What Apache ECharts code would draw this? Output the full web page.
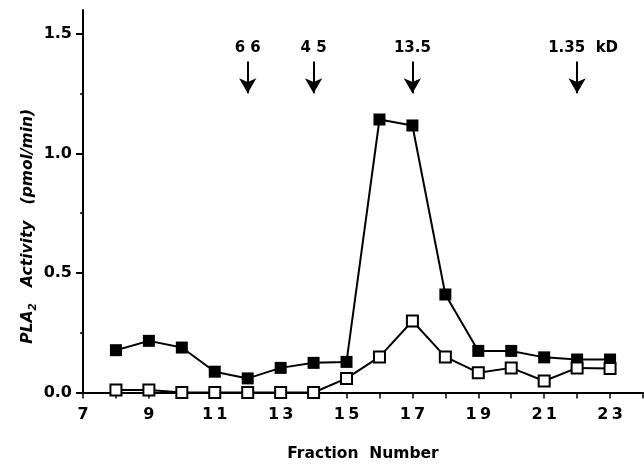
<!DOCTYPE html>
<html><head><meta charset="utf-8">
<script src="https://cdn.jsdelivr.net/npm/echarts@6/dist/echarts.min.js"></script>
<style>html,body{margin:0;padding:0;background:#fff}#c{width:644px;height:464px}</style>
</head><body><div id="c"></div>
<script>
var fractions = [8,9,10,11,12,13,14,15,16,17,18,19,20,21,22,23];
var filledValues = [0.177,0.216,0.188,0.087,0.059,0.103,0.124,0.128,1.142,1.117,0.41,0.174,0.174,0.147,0.138,0.138];
var openValues = [0.01,0.01,0.0,0.0,0.0,0.0,0.0,0.059,0.149,0.299,0.149,0.083,0.103,0.048,0.103,0.1];
var xLabelTicks = [7,9,11,13,15,17,19,21,23];
var xMinorTicks = [7,8,9,10,11,12,13,14,15,16,17,18,19,20,21,22,23,24];
var yLabelTicks = [0,0.5,1.0,1.5];
var yMinorTicks = [0.25,0.75,1.25];
var markerFractions = [12,14,17,22];
var markerLabels = ['6 6','4 5','13.5','1.35  kD'];
var arrowTop = 1.385, arrowBottom = 1.252;

var font = '"DejaVu Sans", "Liberation Sans", Arial, sans-serif';
var chart = echarts.init(document.getElementById('c'), null, {renderer:'canvas'});

function pairs(xs, ys){ return xs.map(function(x,i){return [x, ys[i]];}); }

var markData = markerFractions.map(function(f,i){
  return [{coord:[f,arrowTop], label:{formatter: markerLabels[i], offset: i===3 ? [6,0] : [0,0]}},{coord:[f,arrowBottom]}];
});

chart.setOption({
  animation:false,
  backgroundColor:'#fff',
  grid:{left:83, right:1, top:10, bottom:71.5, containLabel:false, outerBoundsMode:'none'},
  xAxis:{
    type:'value', min:7, max:24, interval:1,
    name:'Fraction  Number', nameLocation:'middle', nameGap:53, nameMoveOverlap:false,
    nameTextStyle:{fontFamily:font, fontWeight:'bold', fontSize:15.5, color:'#000'},
    axisLine:{show:true, onZero:false, lineStyle:{color:'#000', width:2}},
    axisTick:{show:true, inside:false, length:6, customValues:xMinorTicks, lineStyle:{color:'#000', width:1.5}},
    axisLabel:{show:true, customValues:xLabelTicks, margin:14, fontFamily:font, fontWeight:'bold', fontSize:16, color:'#000',
      formatter:function(v){return String(v).split('').join('\u2009');}},
    splitLine:{show:false}
  },
  yAxis:[{
    type:'value', min:0, max:1.6,
    name:'{m|PLA}{s|2}{m|   Activity   (pmol/min)}', nameLocation:'middle', nameGap:44, nameRotate:90, nameMoveOverlap:false,
    nameTextStyle:{fontFamily:font, fontWeight:'bold', fontStyle:'italic', fontSize:15.5, color:'#000', padding:[0,50,0,0],
      rich:{
        m:{fontFamily:font, fontWeight:'bold', fontStyle:'italic', fontSize:15.5, color:'#000', lineHeight:22, verticalAlign:'middle'},
        s:{fontFamily:font, fontWeight:'bold', fontStyle:'italic', fontSize:10.5, color:'#000', lineHeight:22, verticalAlign:'bottom', padding:[8,0,0,0]}
      }},
    axisLine:{show:true, lineStyle:{color:'#000', width:2}},
    axisTick:{show:true, length:7, customValues:yLabelTicks, lineStyle:{color:'#000', width:2}},
    axisLabel:{show:true, customValues:yLabelTicks, margin:11, fontFamily:font, fontWeight:'bold', fontSize:16, color:'#000',
      formatter:function(v){return v.toFixed(1);}},
    splitLine:{show:false}
  },{
    type:'value', min:0, max:1.6, position:'left',
    axisLine:{show:false},
    axisTick:{show:true, length:3, customValues:yMinorTicks, lineStyle:{color:'#000', width:1.5}},
    axisLabel:{show:false},
    splitLine:{show:false}
  }],
  series:[{
    type:'line', name:'filled', data:pairs(fractions, filledValues),
    symbol:'rect', symbolSize:12, showSymbol:true,
    lineStyle:{color:'#000', width:2}, itemStyle:{color:'#000', borderColor:'#000', borderWidth:0},
    z:3,
    markLine:{
      silent:true, symbol:['none','arrow'], symbolSize:[13,15],
      lineStyle:{color:'#000', width:2, type:'solid'},
      label:{show:true, position:'start', distance:6, fontFamily:font, fontWeight:'bold', fontSize:15, color:'#000'},
      data:markData
    }
  },{
    type:'line', name:'open', data:pairs(fractions, openValues),
    symbol:'rect', symbolSize:11, showSymbol:true,
    lineStyle:{color:'#000', width:2}, itemStyle:{color:'#fff', borderColor:'#000', borderWidth:2},
    z:4
  }]
});
</script>
</body></html>
